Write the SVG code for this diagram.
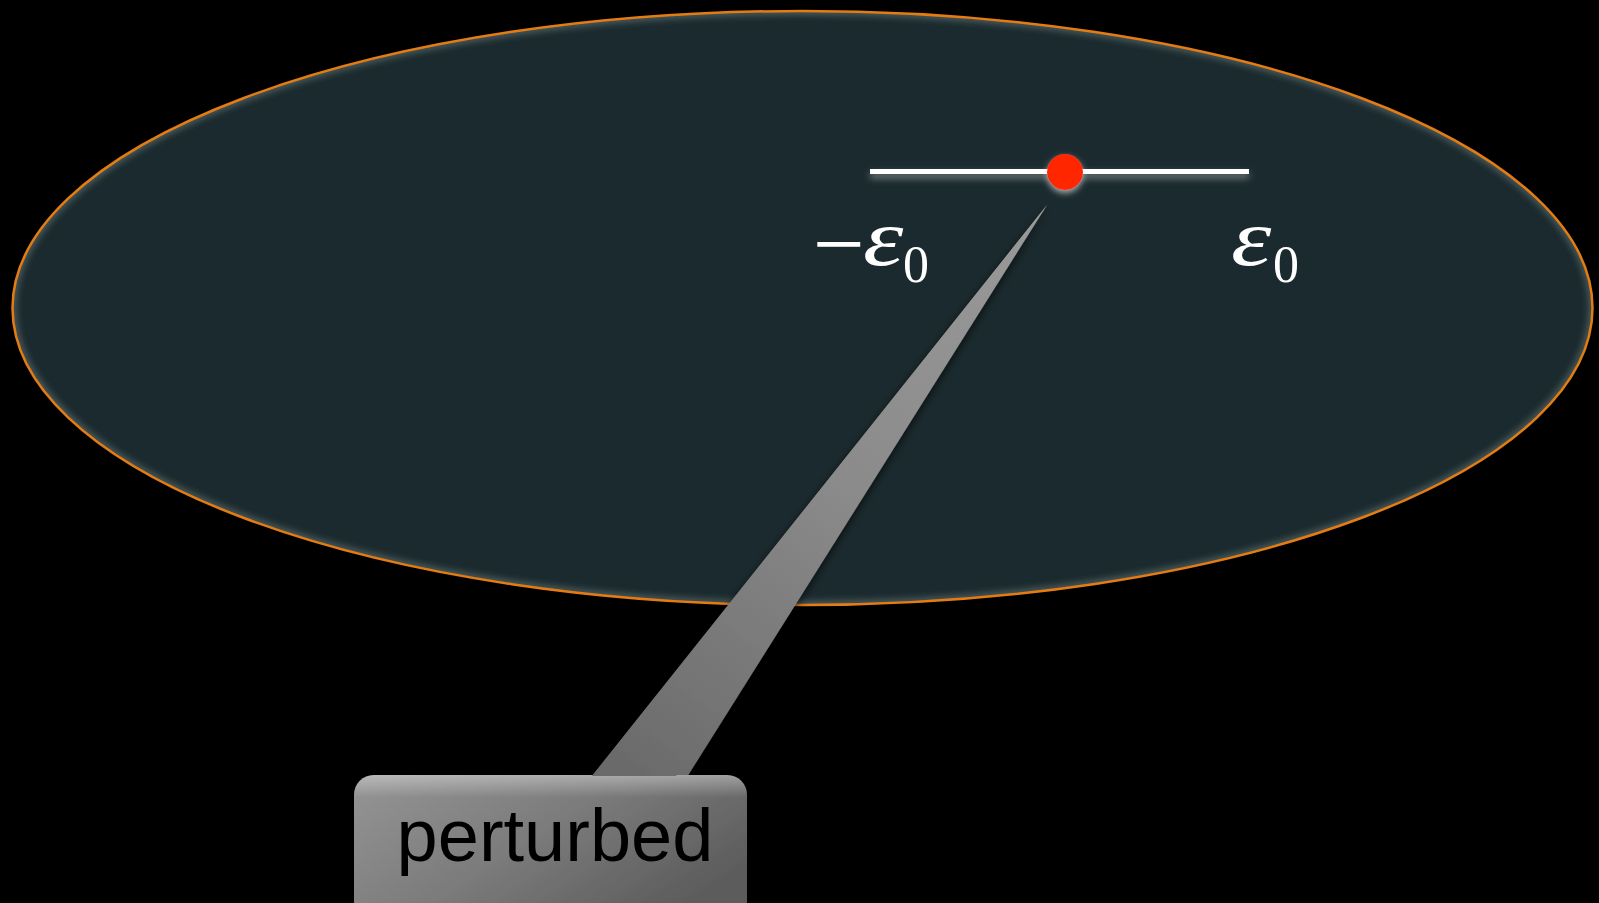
<svg xmlns="http://www.w3.org/2000/svg" width="1599" height="903" viewBox="0 0 1599 903">
<defs>
<style>
.lbl{font-family:"Liberation Serif","DejaVu Serif",serif;fill:#ffffff}
.eps{font-style:italic;font-size:80px}
.sub{font-size:52px}
.minus{font-size:92px}
.box-text{font-family:"Liberation Sans",Arial,sans-serif;font-size:74px;fill:#000000}
</style>
<filter id="soft" x="-20%" y="-20%" width="140%" height="140%"><feGaussianBlur stdDeviation="3"/></filter>
<filter id="shadow" x="-20%" y="-20%" width="140%" height="160%"><feDropShadow dx="0" dy="3" stdDeviation="4" flood-color="#000" flood-opacity="0.7"/></filter>
<filter id="lineglow" filterUnits="userSpaceOnUse" x="840" y="150" width="440" height="50"><feDropShadow dx="0" dy="4" stdDeviation="3.5" flood-color="#cfd6d6" flood-opacity="0.55"/></filter>
<filter id="dotglow" x="-60%" y="-60%" width="220%" height="220%"><feDropShadow dx="0" dy="3" stdDeviation="3" flood-color="#e0e0e0" flood-opacity="0.7"/></filter>
<clipPath id="ellclip"><ellipse cx="802.5" cy="308" rx="790" ry="297"/></clipPath>
<linearGradient id="boxg" x1="0" y1="0" x2="1" y2="0.6">
<stop offset="0" stop-color="#959595"/>
<stop offset="0.5" stop-color="#7c7c7c"/>
<stop offset="1" stop-color="#5c5c5c"/>
</linearGradient>
<linearGradient id="boxhi" x1="0" y1="0" x2="0" y2="1">
<stop offset="0" stop-color="#ffffff" stop-opacity="0.35"/>
<stop offset="0.15" stop-color="#ffffff" stop-opacity="0"/>
</linearGradient>
<linearGradient id="wedgeg" gradientUnits="userSpaceOnUse" x1="1047" y1="205" x2="630" y2="780">
<stop offset="0" stop-color="#9a9a9a"/>
<stop offset="0.5" stop-color="#8a8a8a"/>
<stop offset="1" stop-color="#6a6a6a"/>
</linearGradient>
</defs>
<rect width="1599" height="903" fill="#000000"/>
<g id="region">
<ellipse cx="802.5" cy="308" rx="790" ry="297" fill="#1b2a2e"/>
<g clip-path="url(#ellclip)">
<ellipse cx="802.5" cy="308" rx="790" ry="297" fill="none" stroke="#4a5a5c" stroke-width="8" filter="url(#soft)"/>
</g>
<ellipse cx="802.5" cy="308" rx="790" ry="297" fill="none" stroke="#e57c12" stroke-width="2.5"/>
</g>
<g id="interval">
<rect x="870" y="169" width="379" height="5" fill="#ffffff" filter="url(#lineglow)"/>
<circle cx="1065" cy="172" r="18" fill="#ff2600" filter="url(#dotglow)"/>
</g>
<g id="labels">
<text class="lbl minus" x="813" y="275">−</text>
<text class="lbl eps" transform="translate(863,265) scale(1.28,1)">ε</text>
<text class="lbl sub" x="903" y="282">0</text>
<text class="lbl eps" transform="translate(1231,265) scale(1.28,1)">ε</text>
<text class="lbl sub" x="1273" y="282">0</text>
</g>
<g id="callout" filter="url(#shadow)">
<path d="M1047,205 L585,785 L682,785 Z" fill="url(#wedgeg)"/>
<rect x="354" y="775" width="393" height="150" rx="20" ry="20" fill="url(#boxg)"/>
<rect x="354" y="775" width="393" height="150" rx="20" ry="20" fill="url(#boxhi)"/>
<path d="M1047,205 L592,776 L676,776 Z" fill="url(#wedgeg)"/>
<text class="box-text" x="555" y="861" text-anchor="middle">perturbed</text>
</g>
</svg>
